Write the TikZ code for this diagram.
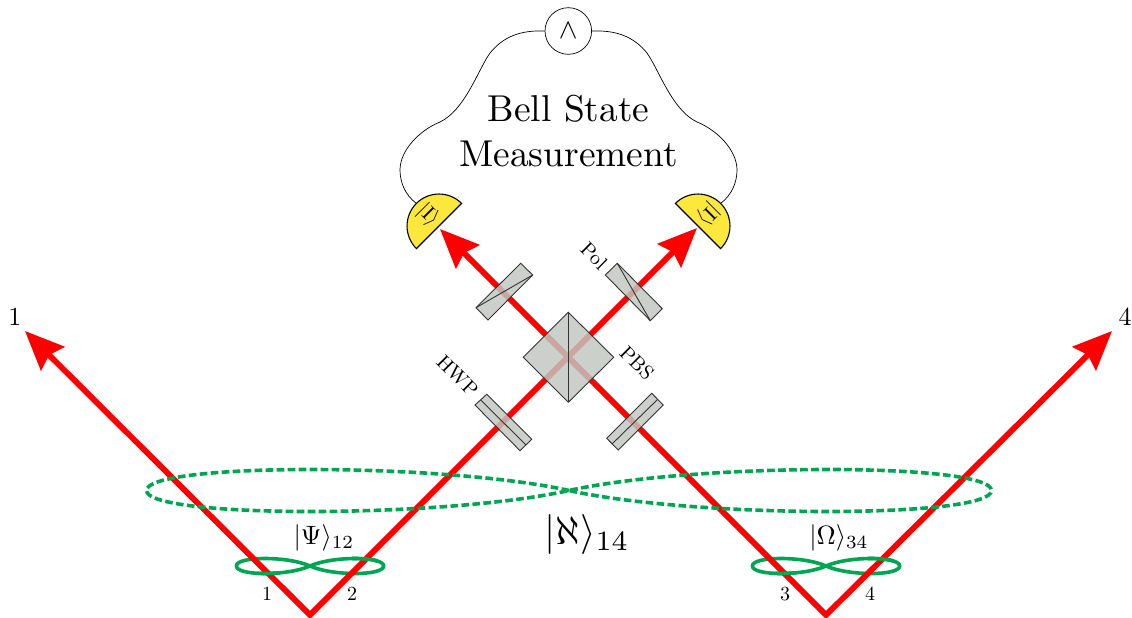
\documentclass[tikz,border=0pt]{standalone}
\usetikzlibrary{arrows.meta}
\definecolor{rayred}{RGB}{255,0,0}
\definecolor{entgreen}{RGB}{0,166,81}
\definecolor{detyellow}{RGB}{252,232,60}
\definecolor{optgray}{RGB}{193,199,192}
\newcommand{\eightunit}{(0,0) .. controls (-.3,-1) and (-1,-1) .. (-1,0) .. controls (-1,1) and (-.3,1) .. (0,0) .. controls (.3,-1) and (1,-1) .. (1,0) .. controls (1,1) and (.3,1) .. (0,0) -- cycle}
\tikzset{
  ray/.style={draw=rayred,line width=5.8pt,miter limit=10,{Stealth[length=39pt,width=33pt,inset=5pt]}-{Stealth[length=39pt,width=33pt,inset=5pt]}},
  optic/.style={draw=black!80,line width=.9pt,fill=optgray,fill opacity=.83,line join=miter},
  optline/.style={draw=black!80,line width=.9pt},
  det/.style={draw=black,line width=1.1pt,fill=detyellow},
  wire/.style={draw=black,line width=.7pt},
  ent/.style={draw=entgreen,line width=3.6pt},
  entdash/.style={draw=entgreen,line width=3.6pt,dash pattern=on 7.6pt off 3.4pt},
  lab/.style={inner sep=0pt,scale=#1},
}
\begin{document}
\begin{tikzpicture}[x=1pt,y=-1pt]
\useasboundingbox (0,0) rectangle (1132,618);
% small entanglement loops under the rays
\begin{scope}[shift={(310,566)},xscale=73.6,yscale=10]\draw[ent] \eightunit;\end{scope}
\begin{scope}[shift={(826,566)},xscale=73.6,yscale=10]\draw[ent] \eightunit;\end{scope}
% rays
\coordinate (v1) at (310,615);
\coordinate (v2) at (826,615);
\coordinate (t1) at (25,331);
\coordinate (t2) at (697,228);
\coordinate (t3) at (440,229);
\coordinate (t4) at (1112,331);
\draw[ray] (t1) -- (v1) -- (t2);
\draw[ray] (t3) -- (v2) -- (t4);
% green over the rays at the braided crossings
\foreach \cx in {310,826}{
  \begin{scope}
    \clip (\cx-52,566) rectangle (\cx-30,582);
    \begin{scope}[shift={(\cx,566)},xscale=73.6,yscale=10]\draw[ent] \eightunit;\end{scope}
  \end{scope}
  \begin{scope}
    \clip (\cx+42,550) rectangle (\cx+68,566);
    \begin{scope}[shift={(\cx,566)},xscale=73.6,yscale=10]\draw[ent] \eightunit;\end{scope}
  \end{scope}
}
% large dashed loop
\begin{scope}[shift={(569,490.5)},xscale=422.5,yscale=28]\draw[entdash] \eightunit;\end{scope}
% PBS
\draw[optic] (523.3,357.3) coordinate (p1) -- (568.3,312.3) coordinate (p2) -- (613.7,357.3) -- (568.3,402.3) coordinate (p4) -- cycle;
\draw[optline] (p2) -- (p4);
% lower plates
\draw[optic] (475,405) -- (486.7,394.3) -- (531.7,439.3) -- (520,450.7) -- cycle;
\draw[optline] (480.7,400) -- (526,445);
\draw[optic] (606.7,438.3) -- (651.7,393.3) -- (663.3,405) -- (618.3,450) -- cycle;
\draw[optline] (611.7,444.3) -- (657.7,399.3);
% upper plates
\draw[optic] (476,307.7) -- (520.7,263.3) -- (532.7,275) -- (488,320) -- cycle;
\draw[optline] (476,307.7) -- (532.7,275);
\draw[optic] (605.3,275) -- (617.3,263.3) -- (662.3,308.7) -- (650.3,320.7) -- cycle;
\draw[optline] (617.3,263.3) -- (650.3,320.7);
% detectors
\draw[det] (461.6,203.4) .. controls (449.1,190.9) and (428.9,190.9) .. (416.4,203.4) coordinate (dl) .. controls (403.9,215.9) and (403.9,236.1) .. (416.4,248.6) -- cycle;
\draw[det] (675.4,203.4) .. controls (687.9,190.9) and (708.1,190.9) .. (720.6,203.4) coordinate (dr) .. controls (733.1,215.9) and (733.1,236.1) .. (720.6,248.6) -- cycle;
\node[lab=2.1,rotate=-45] (kl) at (428,215) {$|\mathrm{I}\rangle$};
\node[lab=2.1,rotate=-135] (kr) at (708,214) {$|\mathrm{I}\rangle$};
% coincidence
\node[circle,draw=black,line width=.7pt,minimum size=46.6pt,inner sep=0pt] (w) at (568.3,31) {\scalebox{2.8}{$\wedge$}};
\draw[wire] (dl) .. controls (405,195) and (400,182) .. (400,170) .. controls (400,150) and (420,130) .. (440,122) .. controls (465,110) and (478,70) .. (490,53) .. controls (503,37) and (520,30) .. (w.west);
\draw[wire] (dr) .. controls (732,195) and (737,182) .. (737,170) .. controls (737,150) and (717,130) .. (697,122) .. controls (672,110) and (659,70) .. (647,53) .. controls (634,37) and (617,30) .. (w.east);
% text
\node[lab=3.74,align=center] (bsm) at (568.5,131) {Bell State\\Measurement};
\node[lab=2,rotate=-45] (hwp) at (457.5,376) {HWP};
\node[lab=2,rotate=-45] (pbs) at (637,363) {PBS};
\node[lab=2,rotate=-45] (pol) at (594,256) {Pol};
\node[lab=4] (aleph) at (587,534) {$|\aleph\rangle_{14}$};
\node[lab=2.65] (psi) at (324,538) {$|\Psi\rangle_{12}$};
\node[lab=2.65] (omega) at (839,538) {$|\Omega\rangle_{34}$};
\node[lab=2.6] (n1) at (15,317) {1};
\node[lab=2.6] (n4) at (1125,317) {4};
\node[lab=2] (s1) at (267,594) {1};
\node[lab=2] (s2) at (352,594) {2};
\node[lab=2] (s3) at (785,594) {3};
\node[lab=2] (s4) at (870,594) {4};
\end{tikzpicture}
\end{document}
